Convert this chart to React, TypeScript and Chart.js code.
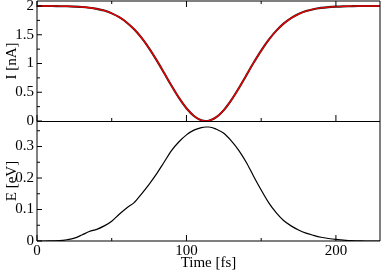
import React, { useEffect, useRef } from 'react';
import { Chart, registerables } from 'chart.js';
Chart.register(...registerables);

const TIME = [0, 5, 10, 15, 20, 25, 30, 35, 40, 45, 50, 55, 60, 65, 70, 75, 80, 85, 90, 95, 100, 105, 110, 113, 115, 120, 125, 130, 135, 140, 145, 150, 155, 160, 165, 170, 175, 180, 185, 190, 195, 200, 205, 210, 215, 220, 225, 230];
const CURRENT = [2.0, 2.0, 2.0, 1.997, 1.995, 1.99, 1.983, 1.97, 1.95, 1.92, 1.872, 1.805, 1.714, 1.594, 1.444, 1.264, 1.059, 0.838, 0.613, 0.401, 0.221, 0.087, 0.012, 0.0, 0.006, 0.067, 0.19, 0.363, 0.569, 0.793, 1.016, 1.225, 1.41, 1.567, 1.693, 1.789, 1.86, 1.911, 1.945, 1.967, 1.981, 1.989, 1.994, 1.997, 2.0, 2.0, 2.0, 2.0];
const ENERGY = [0.0, 0.0, 0.0005, 0.001, 0.004, 0.009, 0.019, 0.03, 0.037, 0.048, 0.063, 0.085, 0.105, 0.122, 0.15, 0.18, 0.213, 0.25, 0.287, 0.315, 0.337, 0.352, 0.36, 0.362, 0.362, 0.355, 0.342, 0.318, 0.288, 0.25, 0.205, 0.162, 0.122, 0.09, 0.065, 0.048, 0.035, 0.025, 0.018, 0.012, 0.008, 0.005, 0.003, 0.001, 0.0005, 0.0, 0.0, 0.0];

const X_MAJOR = [0, 100, 200];
const X_MINOR = [50, 150];
const I_MAJOR = [0, 0.5, 1, 1.5, 2];
const I_MINOR = [0.25, 0.75, 1.25, 1.75];
const E_MAJOR = [0, 0.1, 0.2, 0.3];
const E_MINOR = [0.05, 0.15, 0.25, 0.35];

const FONT = { family: '"Liberation Serif", "Times New Roman", serif', size: 15 };

const framePlugin = {
  id: 'frame',
  afterDraw(chart: any) {
    const { ctx, chartArea } = chart;
    const { left, right } = chartArea;
    const sx = chart.scales.x;
    const sI = chart.scales.yI;
    const sE = chart.scales.yE;
    ctx.save();
    ctx.strokeStyle = '#000';
    ctx.lineWidth = 1;
    const line = (x1: number, y1: number, x2: number, y2: number) => {
      ctx.beginPath();
      ctx.moveTo(x1, y1);
      ctx.lineTo(x2, y2);
      ctx.stroke();
    };
    line(left, sI.top, right, sI.top);
    line(left, sI.top, left, sE.bottom);
    line(right, sI.top, right, sE.bottom);
    line(left, sI.bottom + 0.5, right, sI.bottom + 0.5);
    line(left, sE.bottom, right, sE.bottom);
    const xt = (vals: number[], len: number) => {
      for (const v of vals) {
        const px = sx.getPixelForValue(v);
        line(px, sI.top, px, sI.top + len);
        line(px, sI.bottom, px, sI.bottom - len);
        line(px, sE.bottom, px, sE.bottom - len);
      }
    };
    xt(X_MAJOR, 6);
    xt(X_MINOR, 3);
    const yt = (scale: any, vals: number[], len: number) => {
      for (const v of vals) {
        const py = scale.getPixelForValue(v);
        line(left, py, left + len, py);
      }
    };
    yt(sI, I_MAJOR, 5);
    yt(sI, I_MINOR, 3);
    yt(sE, E_MAJOR, 5);
    yt(sE, E_MINOR, 3);
    ctx.restore();
  },
};

const yAxis = (title: string, max: number, ticks: number[]) => ({
  type: 'linear' as const,
  position: 'left' as const,
  stack: 'panels',
  stackWeight: 1,
  min: 0,
  max,
  grid: { display: false, drawTicks: false },
  border: { display: false },
  ticks: { font: FONT, color: '#000', padding: 3, autoSkip: false, callback: (v: any) => String(Number(v)) },
  afterBuildTicks: (s: any) => {
    s.ticks = ticks.map((v) => ({ value: v }));
  },
  afterFit: (s: any) => {
    s.width = 37;
    s.paddingTop = 0;
    s.paddingBottom = 0;
  },
  title: { display: true, text: title, font: FONT, color: '#000', padding: { top: 3, bottom: 0 } },
});

export default function App() {
  const ref = useRef<HTMLCanvasElement | null>(null);
  useEffect(() => {
    document.body.style.margin = '0';
    if (!ref.current) return;
    const pts = (arr: number[]) => TIME.map((t, i) => ({ x: t, y: arr[i] }));
    const chart = new Chart(ref.current, {
      type: 'line',
      data: {
        datasets: [
          { data: pts(CURRENT), yAxisID: 'yI', borderColor: '#e80000', borderWidth: 1.4, pointRadius: 0, cubicInterpolationMode: 'monotone', order: 0 },
          { data: pts(CURRENT), yAxisID: 'yI', borderColor: '#222', borderWidth: 2.1, pointRadius: 0, cubicInterpolationMode: 'monotone', order: 1 },
          { data: pts(ENERGY), yAxisID: 'yE', borderColor: '#000', borderWidth: 1.2, pointRadius: 0, cubicInterpolationMode: 'monotone', order: 2 },
        ],
      },
      options: {
        animation: false,
        responsive: false,
        layout: { padding: { top: 1, right: 2, left: 0, bottom: 0 } },
        plugins: { legend: { display: false }, tooltip: { enabled: false } },
        scales: {
          x: {
            type: 'linear',
            position: 'bottom',
            min: 0,
            max: 229.5,
            grid: { display: false, drawTicks: false },
            border: { display: false },
            ticks: { font: FONT, color: '#000', padding: 1, autoSkip: false, maxRotation: 0, callback: (v: any) => String(Number(v)) },
            afterBuildTicks: (s: any) => {
              s.ticks = X_MAJOR.map((v) => ({ value: v }));
            },
            afterFit: (s: any) => {
              s.height = 31;
              s.paddingLeft = 0;
              s.paddingRight = 0;
            },
            title: { display: true, text: 'Time [fs]', font: FONT, color: '#000', padding: { top: 0, bottom: 0 } },
          },
          yE: yAxis('E [eV]', 0.381, E_MAJOR),
          yI: yAxis('I [nA]', 2.087, I_MAJOR),
        } as any,
      },
      plugins: [framePlugin],
    });
    return () => chart.destroy();
  }, []);
  return <canvas ref={ref} width={382} height={272} style={{ display: 'block' }} />;
}
